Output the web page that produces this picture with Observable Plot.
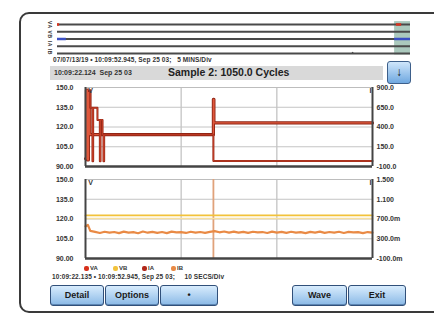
<!DOCTYPE html>
<html><head><meta charset="utf-8">
<script src="https://cdn.jsdelivr.net/npm/d3@7"></script>
<script src="https://cdn.jsdelivr.net/npm/@observablehq/plot@0.6"></script>
<style>
body{margin:0;background:#fff;width:434px;height:314px;overflow:hidden;font-family:"Liberation Sans",Arial,sans-serif;}
#root{position:relative;width:434px;height:314px;overflow:hidden;}
.abs{position:absolute;}
.frame{left:19px;top:12px;width:440px;height:297px;border:2px solid #3a3a3a;border-radius:10px;}
.info{font-size:6.5px;font-weight:bold;color:#333;white-space:nowrap;letter-spacing:0.1px;}
.band{left:50px;top:66px;width:333px;height:14px;background:#d9d9d9;}
.band .t1{position:absolute;left:4px;top:3px;font-size:7px;font-weight:bold;color:#333;white-space:nowrap;}
.band .t2{position:absolute;left:118px;top:0px;font-size:10.5px;font-weight:bold;color:#222;white-space:nowrap;}
.arrowbtn{left:387px;top:61px;width:22px;height:21px;border:1px solid #3d5f8a;border-radius:3px;background:linear-gradient(#cfe6fb,#6fa8e0);text-align:center;font-size:12px;line-height:20px;color:#111;font-weight:bold;}
.btn{top:285px;height:19px;border:1px solid #31507a;border-radius:3px;background:linear-gradient(#d8ecfd,#8ab9e6);font-size:9px;font-weight:bold;color:#1a1a1a;text-align:center;line-height:19px;box-shadow:inset 0 -1px 0 #5d86b3;}
.leg{top:265px;font-size:6px;font-weight:bold;color:#333;white-space:nowrap;}
.leg span{display:inline-block;width:5px;height:5px;border-radius:2px;margin-right:1px;vertical-align:middle;}
.vlab{left:46px;top:21px;font-size:5px;font-weight:bold;color:#333;transform-origin:0 0;transform:rotate(90deg) translate(0,-7px);white-space:nowrap;letter-spacing:0.6px;}
</style>
</head><body>
<div id="root">
  <div class="abs frame"></div>
  <div class="abs" id="ov" style="left:0;top:14px;"></div>
  <div class="abs vlab">VA VB IA IB</div>
  <div class="abs info" style="left:53px;top:56px;">07/07/13/19 • 10:09:52.945, Sep 25 03;&nbsp;&nbsp; 5 MINS/Div</div>
  <div class="abs band"><span class="t1">10:09:22.124&nbsp; Sep 25 03</span><span class="t2">Sample 2: 1050.0 Cycles</span></div>
  <div class="abs arrowbtn">↓</div>
  <div class="abs" id="c1" style="left:0;top:80px;"></div>
  <div class="abs" id="c2" style="left:0;top:172px;"></div>
  <div class="abs" id="legend"></div>
  <div class="abs info" style="left:52px;top:273px;">10:09:22.135 • 10:09:52.945, Sep 25 03;&nbsp;&nbsp;&nbsp;&nbsp; 10 SECS/Div</div>
  <div id="buttons"></div>
</div>
<script>
// ---------- data ----------
const channels = [0, 1, 2, 3, 4];
const seriesNames = ["VA", "VB", "IA", "IB"];
const seriesColors = ["#d7301c", "#f2c23a", "#b0281a", "#e98a45"];
const leftTicks = [90, 105, 120, 135, 150];
const leftLabels = ["90.00", "105.0", "120.0", "135.0", "150.0"];
const rightTopLabels = ["-100.0", "150.0", "400.0", "650.0", "900.0"];
const rightBottomLabels = ["-100.0m", "300.0m", "700.0m", "1.100", "1.500"];
const timeGrid = [10, 20];
const eventTime = [13.37];

// top chart, VA (left axis, V)
const vaT = [0, 0.1, 0.1, 0.2, 0.2, 0.3, 0.3, 0.45, 0.45, 13.37, 13.37, 13.42, 13.42, 30];
const vaV = [96, 96, 148, 148, 95, 95, 146, 146, 114.2, 114.2, 141, 141, 123.1, 123.1];
// top chart, IA
const iaT = [0.5, 0.5, 0.73, 0.73, 0.8, 0.8, 1.25, 1.25, 1.5, 1.5, 1.57, 1.57, 1.78, 1.78, 1.88, 1.88, 1.95, 1.95, 13.37, 13.37, 30];
const iaV = [148, 134.6, 134.6, 94, 94, 134.6, 134.6, 125.4, 125.4, 94, 94, 125.4, 125.4, 114.2, 114.2, 94, 94, 114.2, 114.2, 94.2, 94.2];

// bottom chart
const vbT = [0, 30];
const vbV = [122.7, 122.7];
const vbLowV = [120.4, 120.4];
const ibT = [0, 0.25, 0.5, 1, 1.5, 2, 2.5, 3, 3.5, 4, 4.5, 5, 5.5, 6, 6.5, 7, 7.5, 8, 8.5, 9, 9.5, 10, 10.5, 11, 11.5, 12, 12.5, 13, 13.5, 14, 14.5, 15, 15.5, 16, 16.5, 17, 17.5, 18, 18.5, 19, 19.5, 20, 20.5, 21, 21.5, 22, 22.5, 23, 23.5, 24, 24.5, 25, 25.5, 26, 26.5, 27, 27.5, 28, 28.5, 29, 29.5, 30];
const ibV = [114.5, 115.5, 111, 110.2, 109.4, 110.3, 109.6, 110.1, 109.3, 110.4, 109.7, 110.0, 109.2, 110.5, 109.6, 110.2, 109.5, 110.1, 109.3, 110.4, 109.8, 110.0, 109.4, 110.3, 109.6, 110.1, 109.5, 110.2, 110.8, 109.9, 110.5, 109.7, 110.4, 109.6, 110.2, 109.5, 110.3, 109.8, 110.1, 109.4, 110.4, 109.7, 110.2, 109.5, 110.3, 109.6, 110.0, 109.3, 110.2, 109.7, 110.4, 109.5, 110.1, 109.6, 110.3, 109.4, 110.2, 109.8, 110.0, 109.3, 110.1, 109.7];

// overview strip
const windowStart = 0.955;
const ovRed = [{x1: 0, x2: 0.006, c: 0}, {x1: 0.96, x2: 0.975, c: 0}];
const ovBlue = [{x1: 0, x2: 0.025, c: 2}, {x1: 0.955, x2: 1, c: 2}];
const ovTick = [0.836];

const buttonLabels = ["Detail", "Options", "•", "Wave", "Exit"];

// ---------- helpers ----------
const pts = (T, V) => T.map((t, i) => ({t, v: V[i]}));
const fontStyle = {fontFamily: "Liberation Sans, Arial, sans-serif", fontSize: "7px", fontWeight: "bold", background: "transparent", overflow: "visible", color: "#333"};

// ---------- overview ----------
const ov = Plot.plot({
  width: 434, height: 50, marginLeft: 57, marginRight: 24, marginTop: 10, marginBottom: 11,
  x: {domain: [0, 1], axis: null},
  y: {domain: [0, 4], range: [10, 39], axis: null},
  style: fontStyle,
  marks: [
    Plot.rect([windowStart], {x1: d => d, x2: 1, y1: -0.4, y2: 4.2, fill: "#9cbfb2", fillOpacity: 0.85}),
    Plot.ruleY(channels, {stroke: "#4a4a4a", strokeWidth: 2.2}),
    Plot.ruleY(ovBlue, {x1: "x1", x2: "x2", y: "c", stroke: "#3a4fc4", strokeWidth: 2.5}),
    Plot.ruleY(ovRed, {x1: "x1", x2: "x2", y: "c", stroke: "#d8321e", strokeWidth: 2.5}),
    Plot.ruleX(ovTick, {y1: 3.85, y2: 4, stroke: "#4a4a4a", strokeWidth: 1.5})
  ]
});
document.getElementById("ov").append(ov);

// ---------- chart factory ----------
function chart({height, marginTop, rightLabels, marks}) {
  return Plot.plot({
    width: 434, height, marginLeft: 85, marginRight: 62, marginTop, marginBottom: 3,
    x: {domain: [0, 30], axis: null},
    y: {domain: [90, 150], axis: null},
    style: fontStyle,
    marks: [
      Plot.ruleY(leftTicks.slice(1, 4), {stroke: "#c4c4c4", strokeWidth: 1}),
      Plot.ruleX(timeGrid, {stroke: "#c4c4c4", strokeWidth: 1.3}),
      Plot.ruleY([150], {stroke: "#bdbdbd", strokeWidth: 1}),
      ...marks,
      Plot.ruleX([0, 30], {stroke: "#444", strokeWidth: 2}),
      Plot.ruleY([90], {stroke: "#444", strokeWidth: 2.5}),
      Plot.axisY({ticks: leftTicks, tickSize: 0, tickPadding: 12, label: null, tickFormat: d => leftLabels[leftTicks.indexOf(d)], fill: "#333"}),
      Plot.axisY({anchor: "right", ticks: leftTicks, tickSize: 0, tickPadding: 4, label: null, tickFormat: d => rightLabels[leftTicks.indexOf(d)], fill: "#333"}),
      Plot.text(["V"], {x: 0, y: 150, dx: 5, dy: 3, fontSize: 7, fill: "#333"}),
      Plot.text(["I"], {x: 30, y: 150, dx: -2, dy: 3, fontSize: 7, fill: "#333"})
    ]
  });
}

const c1 = chart({
  height: 89, marginTop: 7, rightLabels: rightTopLabels,
  marks: [
    Plot.line(pts(vaT, vaV), {x: "t", y: "v", stroke: "#8e2414", strokeWidth: 3.2}),
    Plot.line(pts(vaT, vaV), {x: "t", y: "v", stroke: "#e0583c", strokeWidth: 1.4}),
    Plot.line(pts(iaT, iaV), {x: "t", y: "v", stroke: "#9a2a18", strokeWidth: 2}),
    Plot.line(pts(iaT, iaV), {x: "t", y: "v", stroke: "#c8402a", strokeWidth: 0.8})
  ]
});
document.getElementById("c1").append(c1);

const c2 = chart({
  height: 89, marginTop: 7, rightLabels: rightBottomLabels,
  marks: [
    Plot.ruleX(eventTime, {stroke: "#e0a27a", strokeWidth: 1.8}),
    Plot.line(pts(vbT, vbLowV), {x: "t", y: "v", stroke: "#f6dfa0", strokeWidth: 1.5}),
    Plot.line(pts(vbT, vbV), {x: "t", y: "v", stroke: "#f2c23a", strokeWidth: 1.8}),
    Plot.line(pts(ibT, ibV), {x: "t", y: "v", stroke: "#e98a45", strokeWidth: 2.2})
  ]
});
document.getElementById("c2").append(c2);

// ---------- legend ----------
const legX = [84, 113, 142, 171];
const legend = document.getElementById("legend");
seriesNames.forEach((n, i) => {
  const d = document.createElement("div");
  d.className = "abs leg";
  d.style.left = legX[i] + "px";
  d.innerHTML = `<span style="background:${seriesColors[i]}"></span>${n}`;
  legend.append(d);
});

// ---------- buttons ----------
const btnX = [50, 105, 160, 292, 348];
const btnW = [52, 52, 56, 53, 56];
const bwrap = document.getElementById("buttons");
buttonLabels.forEach((b, i) => {
  const d = document.createElement("div");
  d.className = "abs btn";
  d.style.left = btnX[i] + "px";
  d.style.width = btnW[i] + "px";
  d.textContent = b;
  bwrap.append(d);
});
</script>
</body></html>
